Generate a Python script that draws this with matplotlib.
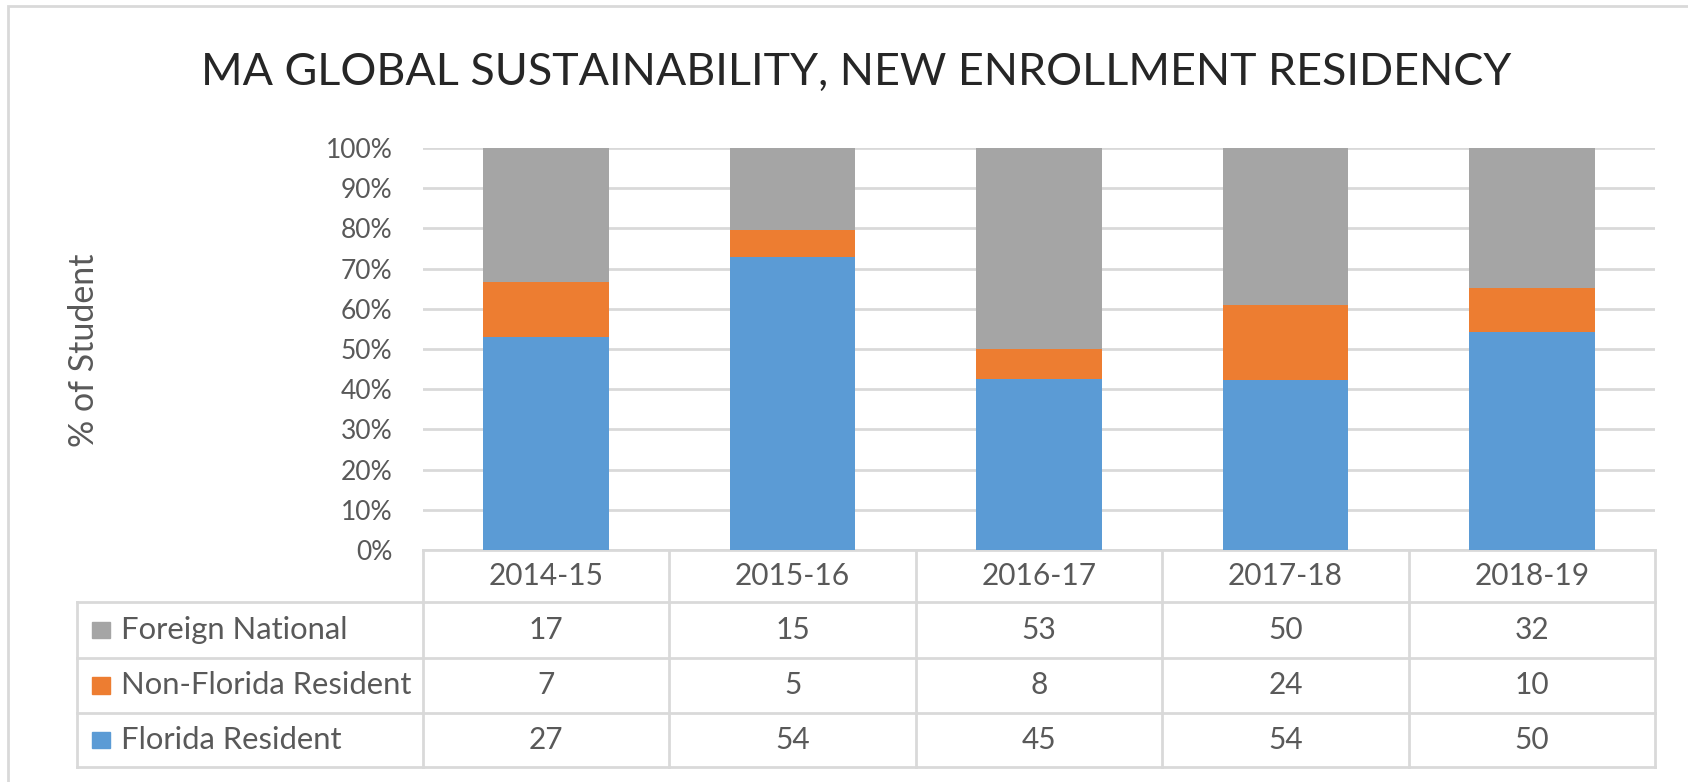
import numpy as np
import matplotlib
matplotlib.use("Agg")
import matplotlib.pyplot as plt
from matplotlib.transforms import blended_transform_factory
from matplotlib.patches import Rectangle

plt.rcParams['font.family'] = ['Lato', 'DejaVu Sans']

# data
years = ['2014-15', '2015-16', '2016-17', '2017-18', '2018-19']
foreign = [17, 15, 53, 50, 32]
non_fl = [7, 5, 8, 24, 10]
florida = [27, 54, 45, 54, 50]
series_names = ['Foreign National', 'Non-Florida Resident', 'Florida Resident']

c_blue = '#5B9BD5'
c_orange = '#ED7D31'
c_gray = '#A5A5A5'
grid_c = '#D9D9D9'
txt_c = '#595959'

fl = np.array(florida, dtype=float)
nf = np.array(non_fl, dtype=float)
fn = np.array(foreign, dtype=float)
tot = fl + nf + fn
p_fl = fl / tot * 100
p_nf = nf / tot * 100
p_fn = fn / tot * 100

fig = plt.figure(figsize=(16.88, 7.82), dpi=100)
ax = fig.add_axes([0.2506, 0.2967, 0.7299, 0.514])

x = np.arange(len(years))
bw = 0.51
ax.bar(x, p_fl, bw, color=c_blue, zorder=3)
ax.bar(x, p_nf, bw, bottom=p_fl, color=c_orange, zorder=3)
ax.bar(x, p_fn, bw, bottom=p_fl + p_nf, color=c_gray, zorder=3)

ax.set_xlim(-0.5, len(years) - 0.5)
ax.set_ylim(0, 100)
ax.set_yticks(np.arange(0, 101, 10))
ax.set_yticklabels([f'{v}%' for v in range(0, 101, 10)], fontsize=19, color=txt_c)
ax.tick_params(axis='y', length=0, pad=22)
ax.set_xticks([])
ax.yaxis.grid(True, color=grid_c, linewidth=2, zorder=0)
for s in ax.spines.values():
    s.set_visible(False)

fig.text(0.05, 0.5524, '% of Student', rotation=90, fontsize=24.5, color=txt_c,
         ha='center', va='center')
fig.suptitle('MA GLOBAL SUSTAINABILITY, NEW ENROLLMENT RESIDENCY', x=0.507, y=0.907,
             fontsize=32.3, color='#262626', va='center')

# data table under the plot
tr = ax.transAxes
trb = blended_transform_factory(ax.transData, ax.transAxes)
row_y = [0, -0.1294, -0.2687, -0.4055, -0.5398]
left = -0.2808
lkw = dict(color=grid_c, linewidth=2, clip_on=False, transform=tr)
ax.plot([0, 1], [row_y[0], row_y[0]], **lkw)
for yy in row_y[1:]:
    ax.plot([left, 1], [yy, yy], **lkw)
ax.plot([left, left], [row_y[1], row_y[-1]], **lkw)
for i in range(len(years) + 1):
    xx = i / len(years)
    ax.plot([xx, xx], [row_y[0], row_y[-1]], **lkw)

rows = [foreign, non_fl, florida]
cols = [c_gray, c_orange, c_blue]
for i, yr in enumerate(years):
    ax.text(x[i], (row_y[0] + row_y[1]) / 2, yr, transform=trb, ha='center',
            va='center', fontsize=21.5, color=txt_c)
for r, (name, vals, cc) in enumerate(zip(series_names, rows, cols)):
    yc = (row_y[r + 1] + row_y[r + 2]) / 2
    for i, v in enumerate(vals):
        ax.text(x[i], yc, str(v), transform=trb, ha='center', va='center',
                fontsize=21.5, color=txt_c)
    ax.text(left + 0.0357, yc, name, transform=tr, ha='left', va='center',
            fontsize=22.3, color=txt_c)
    ax.add_patch(Rectangle((left + 0.0122, yc - 0.021), 0.0146, 0.042,
                           transform=tr, color=cc, clip_on=False))

# outer border
fig.patches.append(Rectangle((8 / 1688, -0.1), 1.2, 1 - 6 / 782 + 0.1,
                             transform=fig.transFigure, fill=False,
                             edgecolor='#D9D9D9', linewidth=2))

fig.savefig('out.png', dpi=100)
